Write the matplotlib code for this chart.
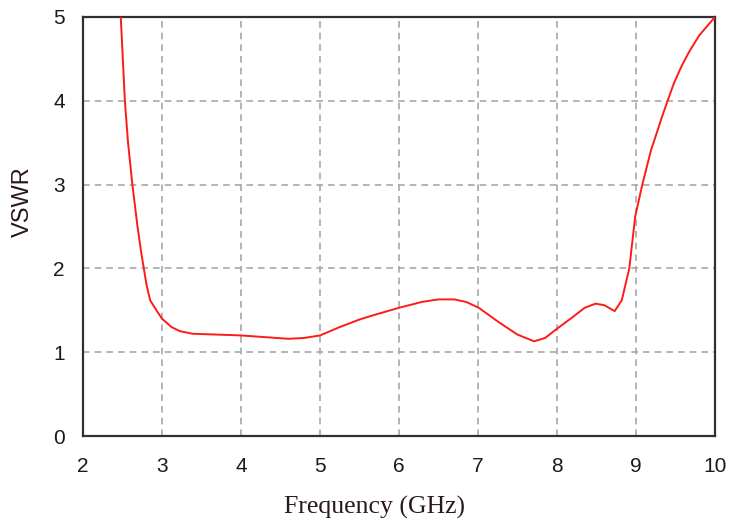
import matplotlib
matplotlib.use("Agg")
import matplotlib.pyplot as plt

freq = [2.478, 2.53, 2.57, 2.625, 2.69, 2.735, 2.77, 2.805, 2.85, 2.93, 3.0, 3.12, 3.23,
        3.39, 3.7, 4.0, 4.3, 4.6, 4.8, 5.0, 5.25, 5.5, 5.67, 6.0, 6.29, 6.5, 6.7, 6.85,
        7.01, 7.26, 7.5, 7.71, 7.85, 8.0, 8.2, 8.35, 8.49, 8.6, 8.73, 8.82, 8.915, 8.99,
        9.08, 9.19, 9.33, 9.40, 9.48, 9.58, 9.67, 9.80, 10.0]
vswr = [5.0, 4.0, 3.5, 3.0, 2.5, 2.2, 2.0, 1.8, 1.62, 1.5, 1.4, 1.3, 1.25,
        1.22, 1.21, 1.20, 1.18, 1.16, 1.17, 1.20, 1.30, 1.39, 1.44, 1.53, 1.60, 1.63, 1.63, 1.60,
        1.53, 1.36, 1.21, 1.13, 1.17, 1.28, 1.42, 1.53, 1.58, 1.56, 1.49, 1.62, 2.0, 2.62,
        3.0, 3.41, 3.81, 4.0, 4.21, 4.42, 4.58, 4.78, 5.0]

xticks = [2, 3, 4, 5, 6, 7, 8, 9, 10]
yticks = [0, 1, 2, 3, 4, 5]

W, H = 729, 523
fig = plt.figure(figsize=(W / 100, H / 100), dpi=100)
ax = fig.add_axes([83 / W, 1 - 436 / H, (715 - 83) / W, (436 - 17) / H])

ax.plot(freq, vswr, color='#ff1a1a', lw=1.4, zorder=3)

ax.set_xlim(2, 10)
ax.set_ylim(0, 5)
ax.set_xticks(xticks)
ax.set_yticks(yticks)
ax.set_xticklabels([str(t) for t in xticks])
ax.set_yticklabels([str(t) for t in yticks])
ax.tick_params(length=0, labelsize=15, colors='#1a1a1a')
ax.tick_params(axis='x', pad=15)
ax.tick_params(axis='y', pad=13)
for lab in ax.get_xticklabels() + ax.get_yticklabels():
    lab.set_family('Liberation Sans')

ax.grid(True, color='#a8a8a8', lw=1.2, linestyle=(0, (4, 3)))
ax.set_axisbelow(True)
for s in ax.spines.values():
    s.set_color('#303030')
    s.set_linewidth(1.6)

fig.text(375 / W, 1 - 507 / H, 'Frequency (GHz)', family='Liberation Serif',
         fontsize=18.5, color='#2a1820', ha='center', va='center')
fig.text(23 / W, 1 - 202 / H, 'VSWR', family='Liberation Sans', fontsize=17,
         color='#2a1820', ha='center', va='center', rotation=90)

fig.savefig('out.png', dpi=100)
